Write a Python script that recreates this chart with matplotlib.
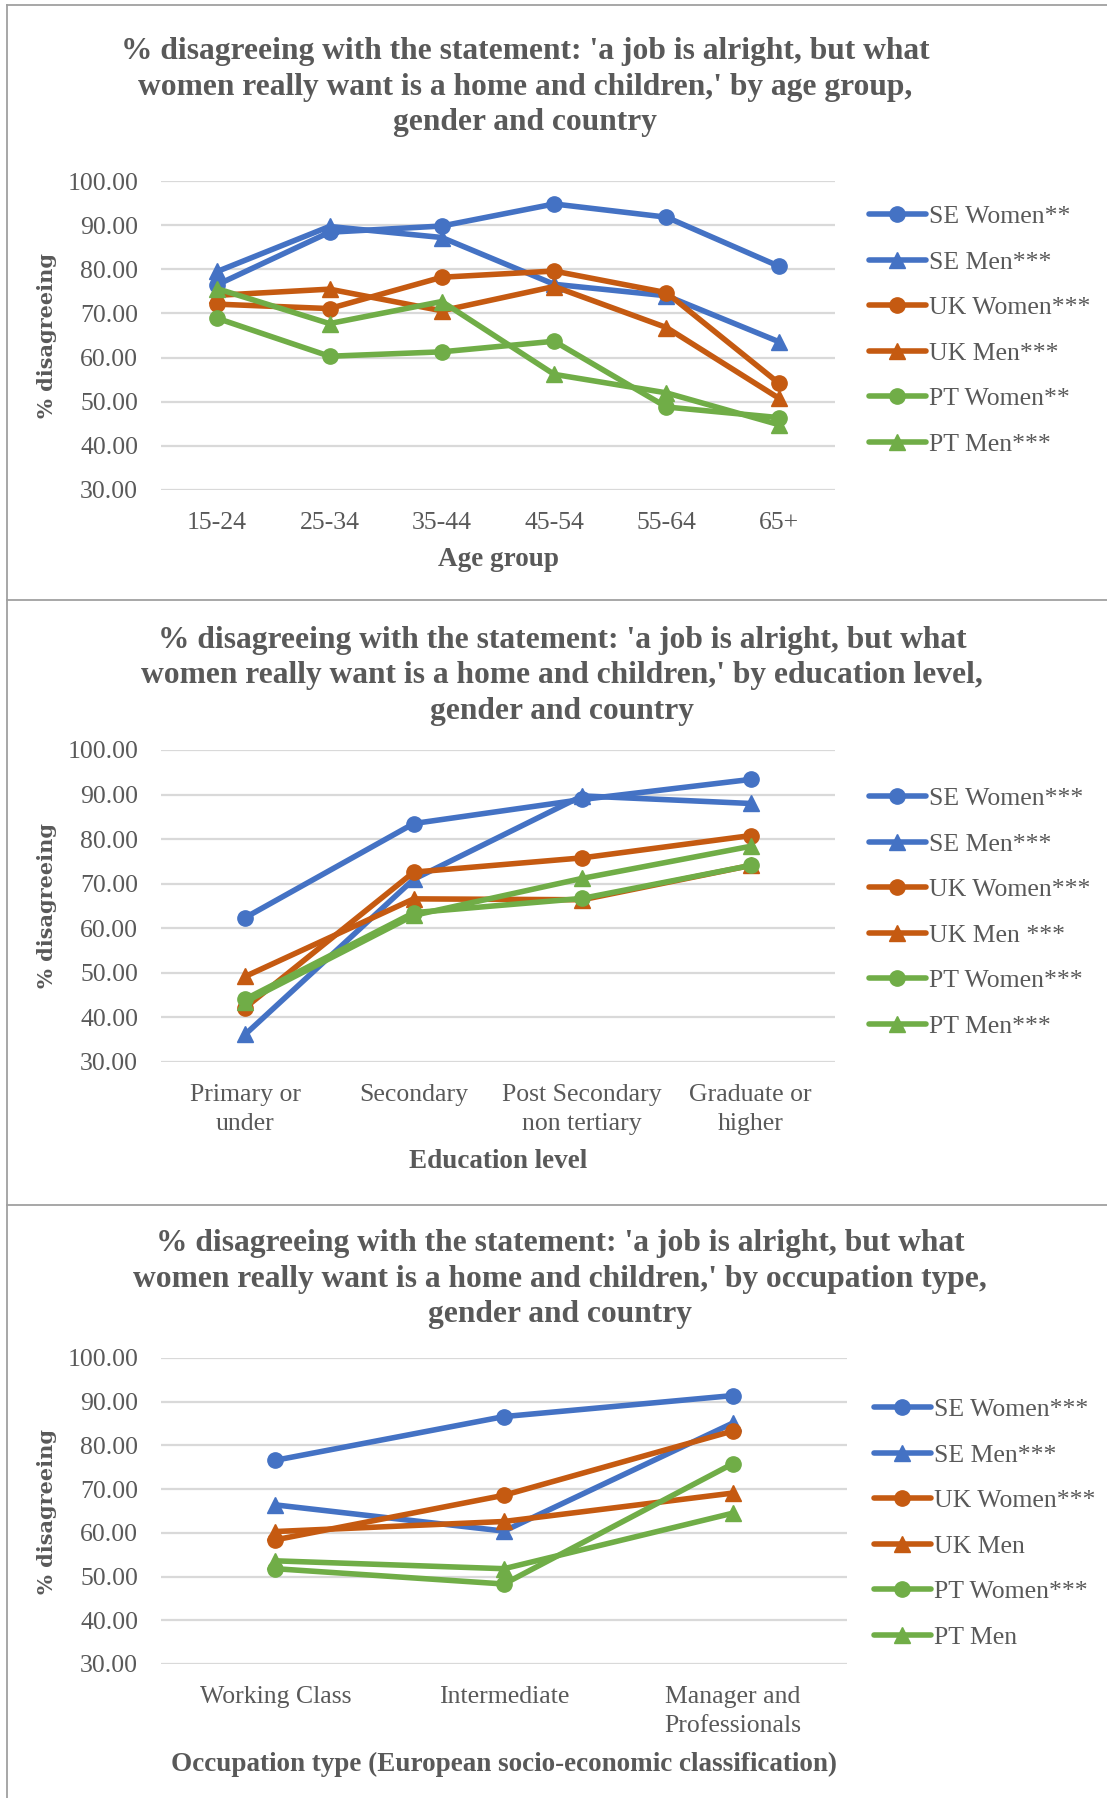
import matplotlib.pyplot as plt
from matplotlib.lines import Line2D
from matplotlib.ticker import FormatStrFormatter

W, H = 1107, 1798
DPI = 100

# age group panel
age_groups = ['15-24', '25-34', '35-44', '45-54', '55-64', '65+']
age_se_women = [76.5, 88.4, 89.8, 94.8, 91.8, 80.7]
age_se_men = [79.5, 89.7, 87.2, 76.6, 74.0, 63.6]
age_uk_women = [72.1, 71.1, 78.2, 79.6, 74.7, 54.2]
age_uk_men = [74.1, 75.5, 70.6, 76.1, 66.8, 50.8]
age_pt_women = [68.9, 60.3, 61.3, 63.7, 48.8, 46.4]
age_pt_men = [75.6, 67.7, 72.7, 56.2, 52.0, 44.8]
age_labels = ['SE Women**', 'SE Men***', 'UK Women***', 'UK Men***',
              'PT Women**', 'PT Men***']

# education panel
edu_levels = ['Primary or\nunder', 'Secondary', 'Post Secondary\nnon tertiary',
              'Graduate or\nhigher']
edu_se_women = [62.4, 83.5, 88.9, 93.4]
edu_se_men = [36.2, 71.0, 89.7, 88.0]
edu_uk_women = [42.2, 72.6, 75.8, 80.8]
edu_uk_men = [49.2, 66.6, 66.4, 74.1]
edu_pt_women = [44.1, 63.5, 66.7, 74.1]
edu_pt_men = [43.5, 62.9, 71.2, 78.4]
edu_labels = ['SE Women***', 'SE Men***', 'UK Women***', 'UK Men ***',
              'PT Women***', 'PT Men***']

# occupation panel
occ_types = ['Working Class', 'Intermediate', 'Manager and\nProfessionals']
occ_se_women = [76.6, 86.6, 91.4]
occ_se_men = [66.4, 60.4, 85.1]
occ_uk_women = [58.4, 68.6, 83.3]
occ_uk_men = [60.3, 62.6, 69.1]
occ_pt_women = [51.8, 48.3, 75.8]
occ_pt_men = [53.6, 51.8, 64.5]
occ_labels = ['SE Women***', 'SE Men***', 'UK Women***', 'UK Men',
              'PT Women***', 'PT Men']

colors = ['#4472C4', '#4472C4', '#C55A11', '#C55A11', '#70AD47', '#70AD47']
markers = ['o', '^', 'o', '^', 'o', '^']
TXT = '#595959'
SERIF = ['Liberation Serif', 'DejaVu Serif']

plt.rcParams['font.family'] = SERIF

fig = plt.figure(figsize=(W / DPI, H / DPI), dpi=DPI)


def fx(x):
    return x / W


def fy(y):
    return 1 - y / H


def panel(top, box, title, title_x, title_y, cats, series, labels,
          xlabel, xlabel_y, ylabel_y, leg_x, leg_y):
    # panel frame
    fig.add_artist(Line2D([fx(7), 1], [fy(top), fy(top)], color='#a0a0a0',
                          lw=1.3, transform=fig.transFigure))
    x0, y0, x1, y1 = box
    ax = fig.add_axes([fx(x0), fy(y1), (x1 - x0) / W, (y1 - y0) / H])
    for vals, c, m, lab in zip(series, colors, markers, labels):
        ax.plot(range(len(cats)), vals, color=c, marker=m, lw=4,
                markersize=11, label=lab, solid_capstyle='round')
    ax.set_xlim(-0.5, len(cats) - 0.5)
    ax.set_ylim(30, 100)
    ax.set_yticks(range(30, 101, 10))
    ax.yaxis.set_major_formatter(FormatStrFormatter('%.2f'))
    ax.set_xticks(range(len(cats)))
    ax.set_xticklabels(cats, linespacing=1.4)
    ax.grid(axis='y', color='#d9d9d9', lw=1.6)
    ax.set_axisbelow(True)
    for s in ax.spines.values():
        s.set_visible(False)
    ax.tick_params(length=0, labelsize=18.5, labelcolor=TXT)
    ax.tick_params(axis='x', pad=16)
    ax.tick_params(axis='y', pad=16.5)

    fig.text(fx(title_x), fy(title_y), title, ha='center', va='center',
             fontsize=22.7, fontweight='bold', color=TXT, linespacing=1.28)
    fig.text(fx((x0 + x1) / 2), fy(xlabel_y), xlabel, ha='center',
             va='center', fontsize=19.5, fontweight='bold', color=TXT)
    fig.text(fx(47), fy(ylabel_y), '% disagreeing', ha='center', va='center',
             rotation=90, fontsize=15, fontweight='bold', color=TXT,
             family=['DejaVu Serif'])
    leg = ax.legend(loc='upper left', bbox_to_anchor=(fx(leg_x), fy(leg_y)),
                    bbox_transform=fig.transFigure, frameon=False,
                    fontsize=18.5, handlelength=2.2, handletextpad=0.12,
                    labelspacing=0.88, borderpad=0, borderaxespad=0)
    for t in leg.get_texts():
        t.set_color(TXT)
    return ax


title_start = "% disagreeing with the statement: 'a job is alright, but what\n"

panel(5, (161, 181, 835, 490),
      title_start + "women really want is a home and children,' by age group,\n"
      "gender and country", 525, 87,
      age_groups,
      [age_se_women, age_se_men, age_uk_women, age_uk_men,
       age_pt_women, age_pt_men],
      age_labels, 'Age group', 560, 335, 869, 205)

panel(600, (161, 750, 835, 1062),
      title_start + "women really want is a home and children,' by education level,\n"
      "gender and country", 562, 676,
      edu_levels,
      [edu_se_women, edu_se_men, edu_uk_women, edu_uk_men,
       edu_pt_women, edu_pt_men],
      edu_labels, 'Education level', 1162, 906, 869, 787)

panel(1205, (161, 1358, 847, 1664),
      title_start + "women really want is a home and children,' by occupation type,\n"
      "gender and country", 560, 1279,
      occ_types,
      [occ_se_women, occ_se_men, occ_uk_women, occ_uk_men,
       occ_pt_women, occ_pt_men],
      occ_labels, 'Occupation type (European socio-economic classification)',
      1764, 1512, 874, 1398)

fig.add_artist(Line2D([fx(7), fx(7)], [fy(5), 0], color='#a0a0a0', lw=1.3,
                      transform=fig.transFigure))

fig.savefig('out.png', dpi=DPI, facecolor='white')
